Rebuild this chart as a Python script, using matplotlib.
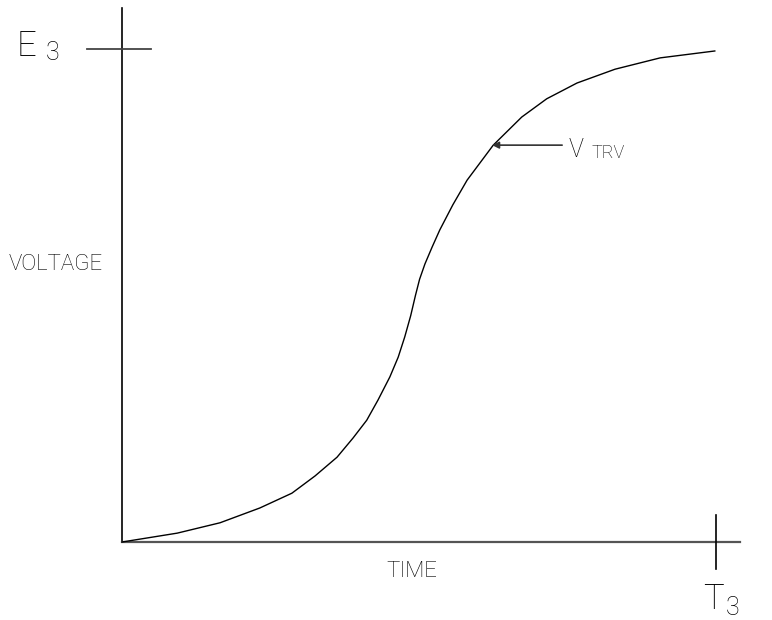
import matplotlib
matplotlib.use('Agg')
import matplotlib.pyplot as plt

# TRV curve, time and voltage normalised to T3 and E3
time = [0.0, 0.093, 0.165, 0.232, 0.286, 0.325, 0.362, 0.389, 0.412, 0.431,
        0.451, 0.465, 0.476, 0.486, 0.494, 0.501, 0.510, 0.522, 0.535, 0.557,
        0.581, 0.625, 0.673, 0.715, 0.766, 0.830, 0.906, 0.998]
voltage = [0.0, 0.018, 0.039, 0.069, 0.099, 0.134, 0.172, 0.211, 0.247, 0.288,
           0.335, 0.375, 0.416, 0.459, 0.500, 0.533, 0.564, 0.598, 0.633, 0.684,
           0.734, 0.805, 0.862, 0.899, 0.931, 0.959, 0.982, 0.996]

t3 = 1.0
e3 = 1.0
v_trv_at = (0.623, 0.805)

font = ['Roboto', 'DejaVu Sans']
wt = 'light'

fig = plt.figure(figsize=(7.72, 6.2), dpi=100)
ax = fig.add_axes([0, 0, 1, 1])
ax.set_xlim(-0.2054, 1.0943)
ax.set_ylim(-0.1582, 1.0994)
ax.axis('off')

# axes lines
ax.plot([0, 0], [0, 1.083], color='black', lw=1.2)
ax.plot([0, 1.040], [0, 0], color='#555555', lw=1.6)

# E3 and T3 ticks
ax.plot([-0.059, 0.049], [e3, e3], color='#444444', lw=1.3)
ax.plot([t3, t3], [-0.055, 0.055], color='black', lw=1.2)

# curve
ax.plot(time, voltage, color='black', lw=1.0)

# V_TRV pointer
ax.annotate('', xy=v_trv_at, xytext=(0.741, 0.805),
            arrowprops=dict(arrowstyle='-|>', color='#333333', lw=1.2,
                            mutation_scale=10, shrinkA=0, shrinkB=0))

ax.text(0.752, 0.781, 'V', family=font, weight=wt, fontsize=18, va='baseline', ha='left')
ax.text(0.790, 0.779, 'TRV', family=font, weight=wt, fontsize=13, va='baseline', ha='left')

ax.text(-0.160, 0.986, 'E', family=font, weight=wt, fontsize=25, va='baseline', ha='center')
ax.text(-0.128, 0.978, '3', family=font, weight=wt, fontsize=18, va='baseline', ha='left')

ax.text(t3 - 0.005, -0.136, 'T', family=font, weight=wt, fontsize=25, va='baseline', ha='center')
ax.text(1.017, -0.148, '3', family=font, weight=wt, fontsize=18, va='baseline', ha='left')

ax.text(-0.111, 0.552, 'VOLTAGE', family=font, weight=wt, fontsize=16, va='baseline', ha='center')
ax.text(0.488, -0.071, 'TIME', family=font, weight=wt, fontsize=16, va='baseline', ha='center')

fig.savefig('out.png', dpi=100, facecolor='white')
